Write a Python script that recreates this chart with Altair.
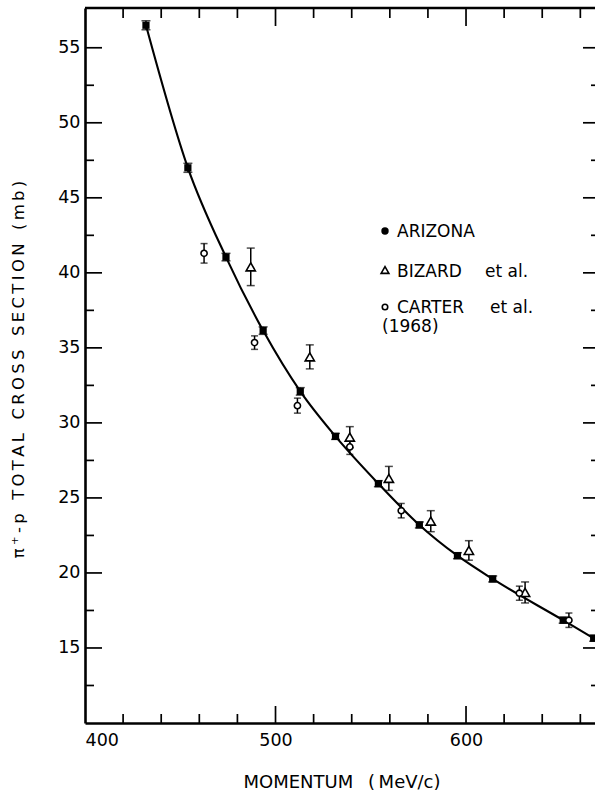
import altair as alt
import pandas as pd

# ---------------- data ----------------
ariz_p = [432, 454, 474, 493.5, 513, 531.5, 554, 575.5, 595.5, 614, 651, 667]
ariz_s = [56.5, 47.0, 41.05, 36.15, 32.1, 29.1, 25.95, 23.2, 21.15, 19.6, 16.85, 15.65]
ariz_e = [0.3, 0.3, 0.25, 0.25, 0.25, 0.2, 0.2, 0.2, 0.2, 0.2, 0.2, 0.2]

biz_p = [487, 518, 539, 559.5, 581.5, 601.5, 631]
biz_s = [40.4, 34.4, 29.05, 26.3, 23.45, 21.5, 18.7]
biz_e = [1.25, 0.8, 0.7, 0.8, 0.7, 0.65, 0.7]

cart_p = [462.5, 489, 511.5, 539, 566, 628, 654]
cart_s = [41.3, 35.35, 31.15, 28.4, 24.15, 18.65, 16.85]
cart_e = [0.65, 0.45, 0.5, 0.5, 0.48, 0.47, 0.48]

x_labels = [400, 500, 600]
x_major = [500, 600]
x_minor = [420, 440, 460, 480, 520, 540, 560, 580, 620, 640, 660]
y_major = [15, 20, 25, 30, 35, 40, 45, 50, 55]
y_minor = [12.5, 17.5, 22.5, 27.5, 32.5, 37.5, 42.5, 47.5, 52.5]


def frame(p, s, e):
    return pd.DataFrame({
        "p": p, "s": s,
        "lo": [a - b for a, b in zip(s, e)],
        "hi": [a + b for a, b in zip(s, e)],
    })


ariz = frame(ariz_p, ariz_s, ariz_e)
biz = frame(biz_p, biz_s, biz_e)
cart = frame(cart_p, cart_s, cart_e)

W, H = 510, 715
FONT = "DejaVu Sans"

xs = alt.Scale(domain=[400, 667.7], nice=False, zero=False)
ys = alt.Scale(domain=[10, 57.65], nice=False, zero=False)

xaxis = alt.Axis(values=x_labels, title=None, grid=False, tickSize=0, labelFlush=True,
                 domainWidth=2.6, domainColor="black", labelFontSize=17.5, labelFont=FONT,
                 labelColor="black", labelPadding=8, format="d")
yaxis = alt.Axis(values=y_major, title=None, grid=False, tickSize=0,
                 domainWidth=2.6, domainColor="black", labelFontSize=17.5, labelFont=FONT,
                 labelColor="black", labelPadding=5, format="d")

X = lambda f: alt.X(f, type="quantitative", scale=xs, axis=xaxis)
Y = lambda f: alt.Y(f, type="quantitative", scale=ys, axis=yaxis)

layers = []

# tick marks (inward)
ymaj = pd.DataFrame({"v": y_major})
ymin = pd.DataFrame({"v": y_minor})
xmaj = pd.DataFrame({"v": x_major})
xmin = pd.DataFrame({"v": x_minor})

layers.append(alt.Chart(ymaj).mark_rule(strokeWidth=1.7, color="black").encode(
    y=Y("v"), x=alt.value(0), x2=alt.value(17)))
layers.append(alt.Chart(ymin).mark_rule(strokeWidth=1.7, color="black").encode(
    y=Y("v"), x=alt.value(0), x2=alt.value(9)))
layers.append(alt.Chart(ymaj).mark_rule(strokeWidth=1.7, color="black").encode(
    y=Y("v"), x=alt.value(W - 12), x2=alt.value(W)))
layers.append(alt.Chart(ymin).mark_rule(strokeWidth=1.7, color="black").encode(
    y=Y("v"), x=alt.value(W - 4), x2=alt.value(W)))
layers.append(alt.Chart(xmaj).mark_rule(strokeWidth=1.7, color="black").encode(
    x=X("v"), y=alt.value(H), y2=alt.value(H - 17)))
layers.append(alt.Chart(xmin).mark_rule(strokeWidth=1.7, color="black").encode(
    x=X("v"), y=alt.value(H), y2=alt.value(H - 9)))
layers.append(alt.Chart(xmaj).mark_rule(strokeWidth=1.7, color="black").encode(
    x=X("v"), y=alt.value(0), y2=alt.value(18)))
layers.append(alt.Chart(xmin).mark_rule(strokeWidth=1.7, color="black").encode(
    x=X("v"), y=alt.value(0), y2=alt.value(10)))

one = pd.DataFrame({"a": [0]})
# top frame line
layers.append(alt.Chart(one).mark_rule(strokeWidth=2.6, color="black").encode(
    x=alt.value(0), x2=alt.value(W), y=alt.value(0)))

# fitted curve
layers.append(alt.Chart(ariz).mark_line(color="black", strokeWidth=2.1, interpolate="monotone").encode(
    x=X("p"), y=Y("s")))


def errbars(df, cap):
    r = alt.Chart(df).mark_rule(color="black", strokeWidth=1.5).encode(x=X("p"), y=Y("lo"), y2="hi")
    t1 = alt.Chart(df).mark_tick(color="black", orient="horizontal", size=cap, thickness=1.5).encode(
        x=X("p"), y=Y("lo"))
    t2 = alt.Chart(df).mark_tick(color="black", orient="horizontal", size=cap, thickness=1.5).encode(
        x=X("p"), y=Y("hi"))
    return [r, t1, t2]


layers += errbars(ariz, 9)
layers += errbars(biz, 8)
layers += errbars(cart, 7)

layers.append(alt.Chart(ariz).mark_point(shape="square", filled=True, color="black", size=52, opacity=1).encode(
    x=X("p"), y=Y("s")))
layers.append(alt.Chart(biz).mark_point(shape="triangle-up", fill="white", stroke="black", strokeWidth=1.6,
                                        size=85, opacity=1, fillOpacity=1).encode(x=X("p"), y=Y("s")))
layers.append(alt.Chart(cart).mark_point(shape="circle", fill="white", stroke="black", strokeWidth=1.6,
                                         size=38, opacity=1, fillOpacity=1).encode(x=X("p"), y=Y("s")))

# legend
LF = 17
layers.append(alt.Chart(one).mark_point(shape="circle", filled=True, color="black", size=55, opacity=1).encode(
    x=alt.value(300), y=alt.value(223)))
layers.append(alt.Chart(one).mark_point(shape="triangle-up", fill="white", stroke="black", strokeWidth=1.6,
                                        size=60, opacity=1, fillOpacity=1).encode(x=alt.value(300), y=alt.value(262)))
layers.append(alt.Chart(one).mark_point(shape="circle", fill="white", stroke="black", strokeWidth=1.6,
                                        size=30, opacity=1, fillOpacity=1).encode(x=alt.value(300), y=alt.value(299)))


def label(txt, x, y, size=LF, angle=0, align="left"):
    return alt.Chart(one).mark_text(text=txt, font=FONT, fontSize=size, color="black", align=align,
                                    baseline="alphabetic", angle=angle).encode(x=alt.value(x), y=alt.value(y))


layers.append(label("ARIZONA", 312, 229))
layers.append(label("BIZARD", 312, 269))
layers.append(label("et al.", 400, 269))
layers.append(label("CARTER", 312, 305))
layers.append(label("et al.", 405, 305))
layers.append(label("(1968)", 297, 324))

# axis titles
T = "\u2009"
SP = "\u00a0\u2002"
ytitle = SP.join([T.join(list(w)) for w in ["\u03c0\u207a-p", "TOTAL", "CROSS", "SECTION", "(mb)"]])
layers.append(alt.Chart(one).mark_text(text=ytitle, font=FONT, fontSize=16.5, color="black", align="center",
                                       baseline="middle", angle=270).encode(x=alt.value(-66), y=alt.value(H / 2 + 4)))
xtitle = "MOMENTUM" + SP + "(" + "\u2009" + "MeV/c)"
layers.append(alt.Chart(one).mark_text(text=xtitle, font=FONT, fontSize=18, color="black", align="center",
                                       baseline="alphabetic").encode(x=alt.value(W / 2 + 2), y=alt.value(780)))

chart = alt.layer(*layers).properties(
    width=W, height=H,
    autosize=alt.AutoSizeParams(type="none"),
    padding={"left": 85, "top": 8, "right": 0, "bottom": 69},
    background="white",
).configure_view(stroke=None)

chart.save("out.html", embed_options={"renderer": "svg", "actions": False})
